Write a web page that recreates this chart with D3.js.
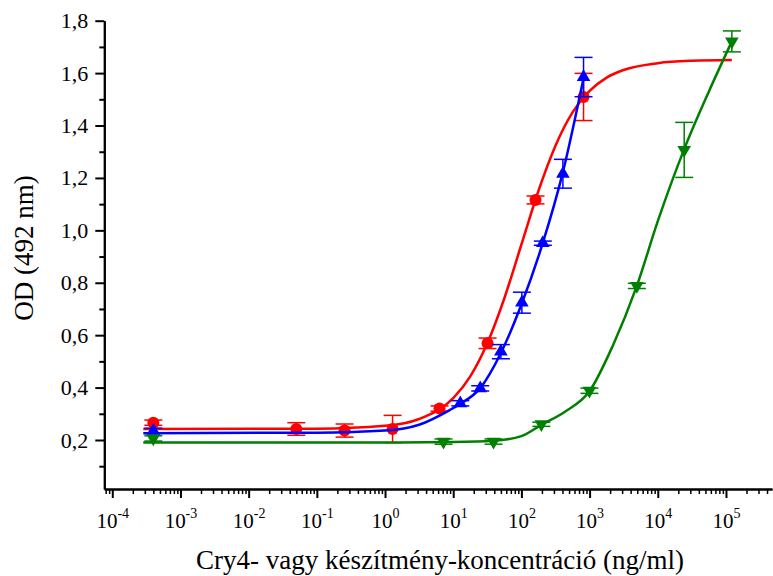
<!DOCTYPE html>
<html><head><meta charset="utf-8">
<script src="https://cdn.jsdelivr.net/npm/d3@7"></script>
<style>
html,body{margin:0;padding:0;background:#fff;}
svg{display:block;font-family:"Liberation Serif","Times New Roman",serif;}
</style></head>
<body>
<svg id="chart" width="773" height="576"></svg>
<script>
// ---- data ----
const seriesNames = ["red", "blue", "green"];
const seriesColors = ["#ff0000", "#0000ff", "#008000"];

const redConc = [0.0004, 0.05, 0.255, 1.29, 6.3, 31.9, 161, 815];
const redOD   = [0.266, 0.242, 0.236, 0.242, 0.320, 0.569, 1.116, 1.509];
const redErr  = [0.010, 0.024, 0.025, 0.052, 0.010, 0.020, 0.015, 0.090];

const blueConc = [0.0004, 12.7, 24.9, 50, 101.6, 206, 406, 815];
const blueOD   = [0.235, 0.340, 0.397, 0.537, 0.724, 0.951, 1.216, 1.585];
const blueErr  = [0.010, 0.010, 0.010, 0.027, 0.040, 0.008, 0.055, 0.075];

const greenConc = [0.0004, 7.2, 39, 196, 995, 4930, 24400, 122000];
const greenOD   = [0.206, 0.194, 0.194, 0.260, 0.388, 0.788, 1.307, 1.721];
const greenErr  = [0.010, 0.010, 0.010, 0.008, 0.010, 0.010, 0.105, 0.040];

// fitted curves as drawn in the reference
const redCurveConc = [0.000285, 0.1, 1, 3.16, 10, 17.8, 31.6, 56.2, 100, 178, 316, 562, 1000, 1780, 3160, 10000, 31600, 122000];
const redCurveOD   = [0.242, 0.243, 0.254, 0.280, 0.360, 0.443, 0.569, 0.741, 0.946, 1.151, 1.323, 1.450, 1.532, 1.583, 1.612, 1.638, 1.647, 1.650];

const blueCurveConc = [0.000285, 0.1, 1, 3.16, 9, 12.7, 24.9, 50, 101.6, 206, 406, 815];
const blueCurveOD   = [0.226, 0.228, 0.236, 0.258, 0.315, 0.338, 0.398, 0.532, 0.722, 0.952, 1.222, 1.580];

const greenCurveConc = [0.000285, 1, 10, 39, 100, 196, 447, 995, 2190, 4930, 10000, 24400, 56200, 122000];
const greenCurveOD   = [0.190, 0.190, 0.192, 0.197, 0.215, 0.258, 0.310, 0.386, 0.560, 0.788, 1.035, 1.310, 1.530, 1.721];

const yMajorTicks = [0.2, 0.4, 0.6, 0.8, 1.0, 1.2, 1.4, 1.6, 1.8];
const yMinorTicks = [0.1, 0.3, 0.5, 0.7, 0.9, 1.1, 1.3, 1.5, 1.7];
const xMajorExponents = [-4, -3, -2, -1, 0, 1, 2, 3, 4, 5];

const xTitle = "Cry4- vagy készítmény-koncentráció (ng/ml)";
const yTitle = "OD (492 nm)";

// ---- layout ----
const svg = d3.select("#chart");
const x = d3.scaleLog().domain([Math.pow(10, -4.117), Math.pow(10, 5.675)]).range([104.3, 772]);
const y = d3.scaleLinear().domain([0.013, 1.8]).range([489, 20.7]);

// x minor ticks
const xMinor = [];
for (let e = -5; e <= 5; e++) for (let m = 2; m <= 9; m++) {
  const v = m * Math.pow(10, e);
  if (v >= x.domain()[0] && v <= x.domain()[1]) xMinor.push(v);
}
const xMajor = xMajorExponents.map(e => Math.pow(10, e));

const axisStyle = g => {
  g.select(".domain").attr("stroke", "#000").attr("stroke-width", 2);
  g.selectAll(".tick line").attr("stroke", "#000").attr("stroke-width", 2);
};

// x axis
const gxMinor = svg.append("g").attr("transform", "translate(0,489)")
  .call(d3.axisBottom(x).tickValues(xMinor).tickSize(5).tickSizeOuter(0).tickFormat(""));
axisStyle(gxMinor);
gxMinor.selectAll(".tick line").attr("stroke-width", 1.5);
const gx = svg.append("g").attr("transform", "translate(0,489)")
  .call(d3.axisBottom(x).tickValues(xMajor).tickSize(9).tickSizeOuter(0).tickFormat(""));
axisStyle(gx);
gx.selectAll(".tick").each(function(d, i) {
  const t = d3.select(this).append("text")
    .attr("y", 39).attr("text-anchor", "middle").attr("fill", "#000")
    .style("font-size", "21px").style("font-family", "'Liberation Serif', serif");
  t.append("tspan").text("10");
  t.append("tspan").attr("dy", -10).style("font-size", "14px").text(String(xMajorExponents[i]));
});

// y axis
const gyMinor = svg.append("g").attr("transform", "translate(104.3,0)")
  .call(d3.axisLeft(y).tickValues(yMinorTicks).tickSize(5).tickSizeOuter(0).tickFormat(""));
axisStyle(gyMinor);
const gy = svg.append("g").attr("transform", "translate(104.3,0)")
  .call(d3.axisLeft(y).tickValues(yMajorTicks).tickSize(9).tickSizeOuter(0).tickPadding(7)
    .tickFormat(d => d3.format(".1f")(d).replace(".", ",")));
axisStyle(gy);
gy.selectAll(".tick text").attr("fill", "#000")
  .style("font-size", "22px").style("font-family", "'Liberation Serif', serif");

// titles
svg.append("text").attr("x", 440).attr("y", 569).attr("text-anchor", "middle")
  .style("font-size", "27px").attr("fill", "#000").text(xTitle);
svg.append("text").attr("transform", "translate(33,248) rotate(-90)").attr("text-anchor", "middle")
  .style("font-size", "27px").attr("fill", "#000").text(yTitle);

// ---- series ----
const series = [
  { conc: redConc, od: redOD, err: redErr, cc: redCurveConc, co: redCurveOD, marker: "circle" },
  { conc: blueConc, od: blueOD, err: blueErr, cc: blueCurveConc, co: blueCurveOD, marker: "up" },
  { conc: greenConc, od: greenOD, err: greenErr, cc: greenCurveConc, co: greenCurveOD, marker: "down" }
];

const line = d3.line().x(d => x(d[0])).y(d => y(d[1])).curve(d3.curveMonotoneX);
const triangle = d3.symbol().type(d3.symbolTriangle).size(80);

series.forEach((s, si) => {
  const col = seriesColors[si];
  const g = svg.append("g").attr("class", "series-" + seriesNames[si]);
  g.append("path").datum(s.cc.map((c, i) => [c, s.co[i]]))
    .attr("d", line).attr("fill", "none").attr("stroke", col).attr("stroke-width", 2.5);

  const pts = s.conc.map((c, i) => ({ c, v: s.od[i], e: s.err[i] }));
  const eb = g.selectAll(".eb").data(pts).enter().append("g").attr("stroke", col).attr("stroke-width", 1.5);
  eb.append("line").attr("x1", d => x(d.c)).attr("x2", d => x(d.c))
    .attr("y1", d => y(d.v - d.e)).attr("y2", d => y(d.v + d.e));
  eb.append("line").attr("x1", d => x(d.c) - 9).attr("x2", d => x(d.c) + 9)
    .attr("y1", d => y(d.v + d.e)).attr("y2", d => y(d.v + d.e));
  eb.append("line").attr("x1", d => x(d.c) - 9).attr("x2", d => x(d.c) + 9)
    .attr("y1", d => y(d.v - d.e)).attr("y2", d => y(d.v - d.e));

  if (s.marker === "circle") {
    g.selectAll(".m").data(pts).enter().append("circle")
      .attr("cx", d => x(d.c)).attr("cy", d => y(d.v)).attr("r", 6).attr("fill", col);
  } else {
    const rot = s.marker === "down" ? 180 : 0;
    g.selectAll(".m").data(pts).enter().append("path")
      .attr("d", triangle)
      .attr("transform", d => `translate(${x(d.c)},${y(d.v)}) rotate(${rot})`)
      .attr("fill", col);
  }
});
</script>
</body></html>
